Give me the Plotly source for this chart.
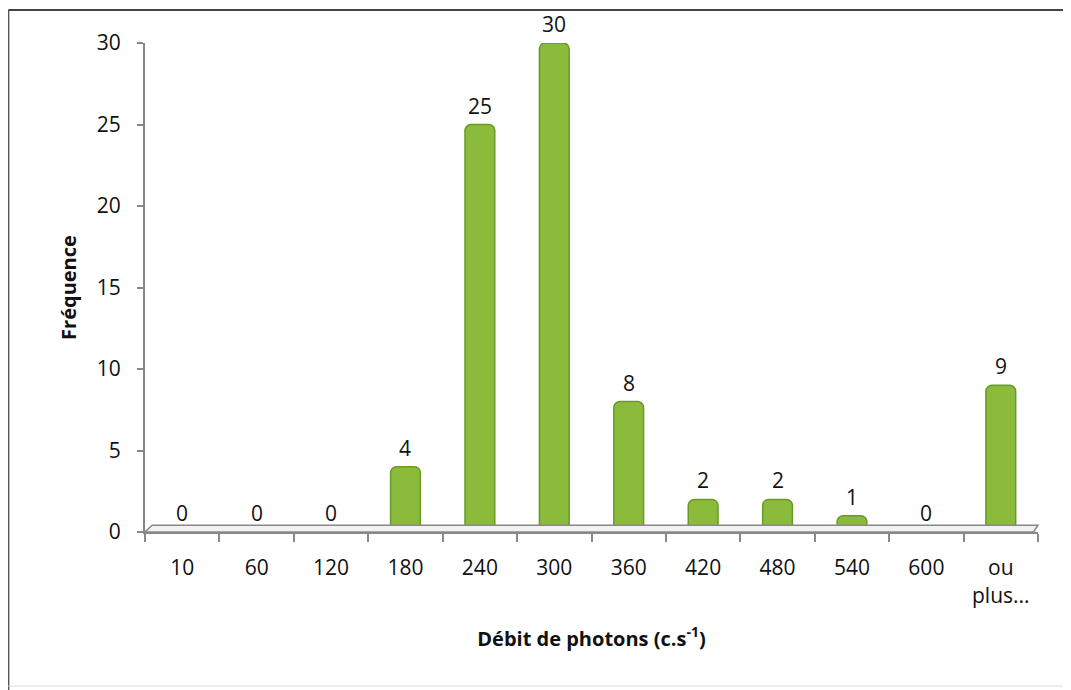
import plotly.graph_objects as go

categories = ["10", "60", "120", "180", "240", "300", "360", "420", "480", "540", "600", "ou<br>plus..."]
frequences = [0, 0, 0, 4, 25, 30, 8, 2, 2, 1, 0, 9]
y_ticks = [0, 5, 10, 15, 20, 25, 30]

FONT = "Open Sans, Lato, sans-serif"
GREEN = "#8bbb3a"
EDGE = "#6a9a25"

fig = go.Figure()
fig.add_trace(go.Bar(
    x=categories, y=frequences,
    marker=dict(color=GREEN, line=dict(color=EDGE, width=1.5), cornerradius=6),
    width=0.4,
    hoverinfo="x+y",
))

for i, v in enumerate(frequences):
    fig.add_annotation(x=i, y=v, xref="x", yref="y", text=str(v), showarrow=False,
                       yanchor="bottom", yshift=3,
                       font=dict(family=FONT, size=21, color="#111111"))

fig.update_layout(
    width=1071, height=690,
    margin=dict(l=137, r=41, t=35, b=166),
    paper_bgcolor="white", plot_bgcolor="white",
    showlegend=False,
    font=dict(family=FONT, size=21, color="#111111"),
    xaxis=dict(
        type="category", range=[-0.5, len(categories) - 0.5],
        showline=True, linecolor="#888888", linewidth=2,
        ticks="outside", ticklen=8, tickcolor="#888888", tickwidth=2,
        tickson="boundaries", showgrid=False, ticklabelstandoff=16,
        tickfont=dict(family=FONT, size=21, color="#111111"),
        title=dict(text="<b>Débit de photons (c.s<sup>-1</sup>)</b>",
                   font=dict(family=FONT, size=20, color="#111111"), standoff=24),
    ),
    yaxis=dict(
        range=[0, 30], tickvals=y_ticks,
        showline=True, linecolor="#888888", linewidth=2,
        ticks="outside", ticklen=6, tickcolor="#888888", tickwidth=2,
        showgrid=False, zeroline=False, ticklabelstandoff=12,
        tickfont=dict(family=FONT, size=21, color="#111111"),
        title=dict(text="<b>Fréquence</b>",
                   font=dict(family=FONT, size=20, color="#111111"), standoff=15),
    ),
    shapes=[
        dict(type="line", xref="paper", yref="paper", x0=-0.153, x1=1.06, y0=1.0675, y1=1.0675,
             line=dict(color="#444444", width=2)),
        dict(type="line", xref="paper", yref="paper", x0=-0.153, x1=-0.153, y0=-0.33, y1=1.0675,
             line=dict(color="#555555", width=2)),
        dict(type="line", xref="paper", yref="paper", x0=-0.153, x1=1.06, y0=-0.315, y1=-0.315,
             line=dict(color="#dddddd", width=1)),
        dict(type="path", xref="paper", yref="paper",
             path="M 0,0.0 L 0.008,0.014 L 1.0,0.014 L 0.995,0.0 Z",
             fillcolor="#f2f2f2", line=dict(color="#888888", width=1.5)),
    ],
)

fig.write_html("out.html")
